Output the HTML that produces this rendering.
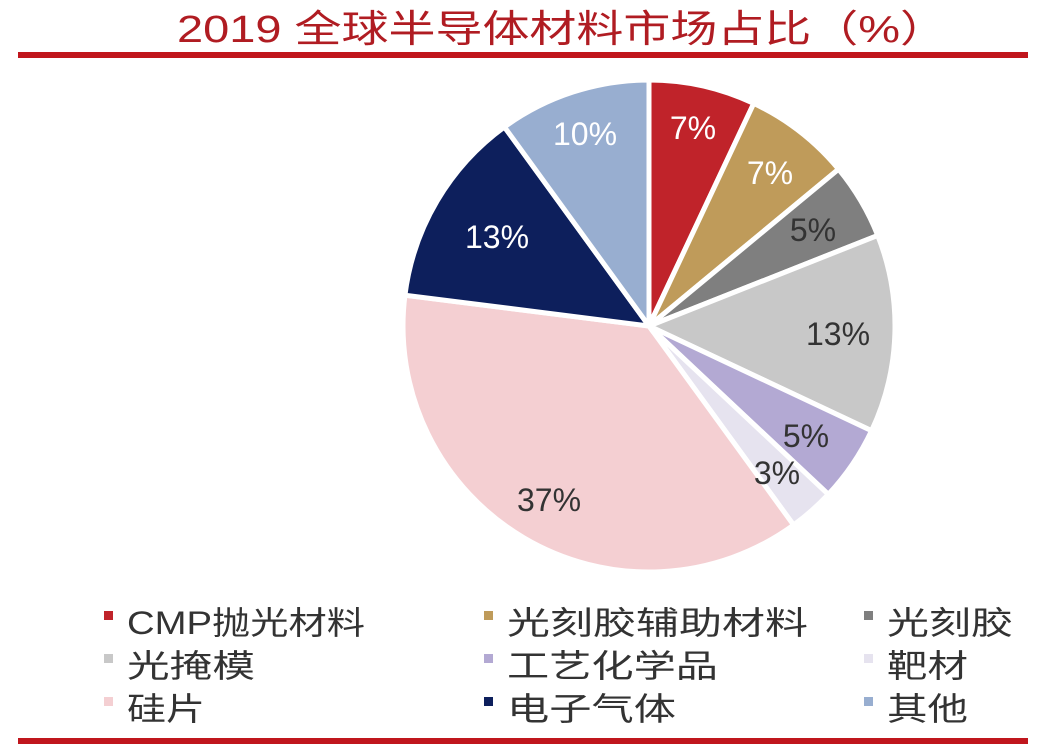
<!DOCTYPE html>
<html><head><meta charset="utf-8"><style>
body{margin:0;width:1055px;height:749px;background:#fff;overflow:hidden;font-family:"Liberation Sans","Noto Sans CJK SC",sans-serif}
</style></head><body>
<svg width="1055" height="749" xmlns="http://www.w3.org/2000/svg" font-family="Liberation Sans, Noto Sans CJK SC, sans-serif">
<text x="562" y="42" text-anchor="middle" font-size="38" fill="#b01c22" textLength="770" lengthAdjust="spacingAndGlyphs">2019 全球半导体材料市场占比（%）</text>
<rect x="18" y="52" width="1010" height="6" fill="#c0161d"/>
<rect x="18" y="738" width="1010" height="6" fill="#c0161d"/>
<g id="pie" stroke="#fff" stroke-width="5"></g>
<g font-size="32" text-anchor="middle">
<text x="693" y="139" fill="#fff">7%</text>
<text x="770" y="184" fill="#fff">7%</text>
<text x="813" y="241" fill="#333">5%</text>
<text x="838" y="345" fill="#333">13%</text>
<text x="806" y="447" fill="#333">5%</text>
<text x="777" y="484" fill="#333">3%</text>
<text x="549" y="511" fill="#333">37%</text>
<text x="497" y="248" fill="#fff">13%</text>
<text x="585" y="145" fill="#fff">10%</text>
</g>
<g font-size="32" fill="#333" lengthAdjust="spacingAndGlyphs">
<rect x="104" y="611" width="9" height="9" fill="#c0232a"/><text x="127" y="634" textLength="238" lengthAdjust="spacingAndGlyphs">CMP抛光材料</text>
<rect x="484" y="611" width="9" height="9" fill="#bf9b5a"/><text x="507" y="634" textLength="301" lengthAdjust="spacingAndGlyphs">光刻胶辅助材料</text>
<rect x="864" y="611" width="9" height="9" fill="#7f7f7f"/><text x="887" y="634" textLength="126" lengthAdjust="spacingAndGlyphs">光刻胶</text>
<rect x="104" y="654" width="9" height="9" fill="#c8c8c8"/><text x="127" y="677" textLength="128" lengthAdjust="spacingAndGlyphs">光掩模</text>
<rect x="484" y="654" width="9" height="9" fill="#b3a9d3"/><text x="507" y="677" textLength="211" lengthAdjust="spacingAndGlyphs">工艺化学品</text>
<rect x="864" y="654" width="9" height="9" fill="#e6e3ef"/><text x="887" y="677" textLength="81" lengthAdjust="spacingAndGlyphs">靶材</text>
<rect x="104" y="697" width="9" height="9" fill="#f4cfd2"/><text x="127" y="720" textLength="78" lengthAdjust="spacingAndGlyphs">硅片</text>
<rect x="484" y="697" width="9" height="9" fill="#0d1f5c"/><text x="507" y="720" textLength="169" lengthAdjust="spacingAndGlyphs">电子气体</text>
<rect x="864" y="697" width="9" height="9" fill="#98aed0"/><text x="887" y="720" textLength="81" lengthAdjust="spacingAndGlyphs">其他</text>
</g>
</svg>
<script>
var d=[[7,"#c0232a"],[7,"#bf9b5a"],[5,"#7f7f7f"],[13,"#c8c8c8"],[5,"#b3a9d3"],[3,"#e6e3ef"],[37,"#f4cfd2"],[13,"#0d1f5c"],[10,"#98aed0"]];
var cx=649,cy=326,r=246,a=0,g=document.getElementById("pie"),s="";
d.forEach(function(e){var a2=a+e[0]/100*2*Math.PI;
var x1=cx+r*Math.sin(a),y1=cy-r*Math.cos(a),x2=cx+r*Math.sin(a2),y2=cy-r*Math.cos(a2);
s+='<path d="M'+cx+','+cy+'L'+x1+','+y1+'A'+r+','+r+' 0 '+(a2-a>Math.PI?1:0)+' 1 '+x2+','+y2+'Z" fill="'+e[1]+'"/>';a=a2;});
g.innerHTML=s;
</script>
</body></html>
